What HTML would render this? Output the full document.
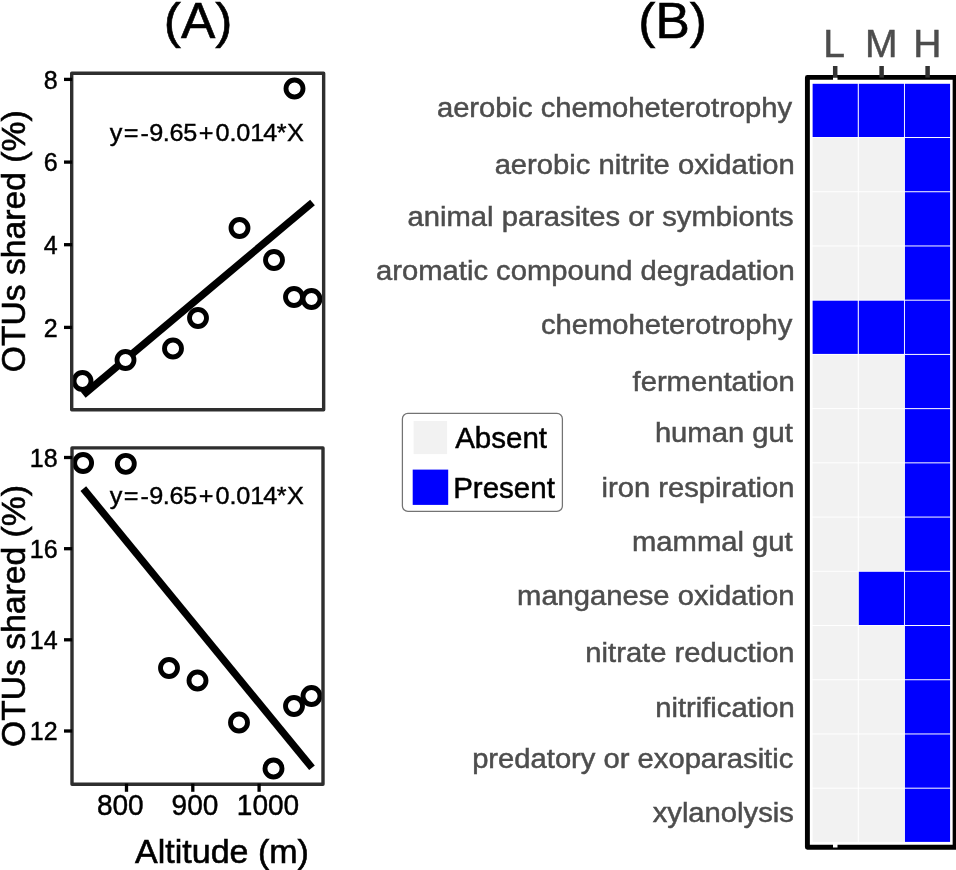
<!DOCTYPE html>
<html><head><meta charset="utf-8"><title>Figure</title>
<style>html,body{margin:0;padding:0;background:#fff;}body{width:956px;height:870px;overflow:hidden;font-family:"Liberation Sans",sans-serif;}svg{display:block;will-change:transform;}text{font-family:"Liberation Sans",sans-serif;}</style></head><body>
<svg width="956" height="870" viewBox="0 0 956 870">
<rect x="0" y="0" width="956" height="870" fill="#ffffff"/>
<text transform="translate(198.1,37.5) scale(1.02,1)" x="0" y="0" font-size="50.5" text-anchor="middle" fill="#000" stroke="#000" stroke-width="0.6">(A)</text>
<text transform="translate(672.6,37.5) scale(1.02,1)" x="0" y="0" font-size="50.5" text-anchor="middle" fill="#000" stroke="#000" stroke-width="0.6">(B)</text>
<g font-size="25" text-anchor="end" fill="#000" stroke="#000" stroke-width="0.45">
<text x="57.6" y="336.5">2</text>
<text x="57.6" y="253.8">4</text>
<text x="57.6" y="171.2">6</text>
<text x="57.6" y="88.5">8</text>
<text x="57.6" y="740.1">12</text>
<text x="57.6" y="648.9">14</text>
<text x="57.6" y="557.8">16</text>
<text x="57.6" y="466.6">18</text>
</g>
<g font-size="30" fill="#000" stroke="#000" stroke-width="0.45" transform="translate(0,814.9) scale(0.935,1)">
<text x="103.64" y="0">800</text>
<text x="183.53" y="0">900</text>
<text x="253.26" y="0">1000</text>
</g>
<text x="222" y="862.6" font-size="34" text-anchor="middle" fill="#000" stroke="#000" stroke-width="0.6">Altitude (m)</text>
<text transform="translate(25.2,241.3) rotate(-90)" font-size="34" text-anchor="middle" fill="#000" stroke="#000" stroke-width="0.6" textLength="262" lengthAdjust="spacingAndGlyphs">OTUs shared (%)</text>
<text transform="translate(25.2,616) rotate(-90)" font-size="34" text-anchor="middle" fill="#000" stroke="#000" stroke-width="0.6" textLength="262" lengthAdjust="spacingAndGlyphs">OTUs shared (%)</text>
<line x1="83.3" y1="394.9" x2="312.5" y2="202.5" stroke="#000" stroke-width="7.3"/>
<line x1="83.3" y1="488.6" x2="312" y2="767.8" stroke="#000" stroke-width="7.3"/>
<g stroke="#000" stroke-width="4.85" fill="#fff">
<circle cx="82.5" cy="381" r="8.5"/>
<circle cx="125.5" cy="360" r="8.5"/>
<circle cx="173" cy="348.5" r="8.5"/>
<circle cx="198" cy="318" r="8.5"/>
<circle cx="239.5" cy="228" r="8.5"/>
<circle cx="274" cy="260" r="8.5"/>
<circle cx="294.5" cy="88.5" r="8.5"/>
<circle cx="294" cy="297" r="8.5"/>
<circle cx="311.5" cy="299" r="8.5"/>
<circle cx="83.1" cy="463" r="8.5"/>
<circle cx="125.8" cy="463.8" r="8.5"/>
<circle cx="169" cy="668" r="8.5"/>
<circle cx="197.5" cy="680.5" r="8.5"/>
<circle cx="239" cy="722.5" r="8.5"/>
<circle cx="273.5" cy="768.5" r="8.5"/>
<circle cx="294" cy="706" r="8.5"/>
<circle cx="311.5" cy="696" r="8.5"/>
</g>
<text transform="translate(0,141.2) scale(1.03,1)" x="106.44 120.13 136.36 144.84 158.00 164.46 178.02 193.00 209.16 222.86 229.45 243.05 255.59 268.72 278.61" y="0" font-size="24.5" fill="#000" stroke="#000" stroke-width="0.4">y=-9.65+0.014*X</text>
<text transform="translate(0,503.8) scale(1.03,1)" x="106.44 120.13 136.36 144.84 158.00 164.46 178.02 193.00 209.16 222.86 229.45 243.05 255.59 268.72 278.61" y="0" font-size="24.5" fill="#000" stroke="#000" stroke-width="0.4">y=-9.65+0.014*X</text>
<rect x="71.7" y="73.3" width="251.95" height="336.45" fill="none" stroke="#2e2e2e" stroke-width="3.4" stroke-linejoin="round"/>
<rect x="72.0" y="447.9" width="251.0" height="336.4" fill="none" stroke="#2e2e2e" stroke-width="3.4" stroke-linejoin="round"/>
<g stroke="#000" stroke-width="3.3" fill="none">
<line x1="64" x2="72.2" y1="327.4" y2="327.4"/>
<line x1="64" x2="72.2" y1="244.7" y2="244.7"/>
<line x1="64" x2="72.2" y1="162.1" y2="162.1"/>
<line x1="64" x2="72.2" y1="79.4" y2="79.4"/>
<line x1="64" x2="72.2" y1="731.0" y2="731.0"/>
<line x1="64" x2="72.2" y1="639.8" y2="639.8"/>
<line x1="64" x2="72.2" y1="548.7" y2="548.7"/>
<line x1="64" x2="72.2" y1="457.5" y2="457.5"/>
<line x1="126.5" x2="126.5" y1="783.6" y2="791.8"/>
<line x1="192.8" x2="192.8" y1="783.6" y2="791.8"/>
<line x1="259.1" x2="259.1" y1="783.6" y2="791.8"/>
</g>
<rect x="808" y="77.5" width="160" height="770" fill="#fff"/>
<rect x="812.62" y="83.80" width="45.15" height="53.22" fill="#0000ff"/>
<rect x="858.82" y="83.80" width="45.15" height="53.22" fill="#0000ff"/>
<rect x="904.92" y="83.80" width="45.15" height="53.22" fill="#0000ff"/>
<rect x="812.62" y="138.02" width="45.15" height="53.22" fill="#f2f2f2"/>
<rect x="858.82" y="138.02" width="45.15" height="53.22" fill="#f2f2f2"/>
<rect x="904.92" y="138.02" width="45.15" height="53.22" fill="#0000ff"/>
<rect x="812.62" y="192.24" width="45.15" height="53.22" fill="#f2f2f2"/>
<rect x="858.82" y="192.24" width="45.15" height="53.22" fill="#f2f2f2"/>
<rect x="904.92" y="192.24" width="45.15" height="53.22" fill="#0000ff"/>
<rect x="812.62" y="246.46" width="45.15" height="53.22" fill="#f2f2f2"/>
<rect x="858.82" y="246.46" width="45.15" height="53.22" fill="#f2f2f2"/>
<rect x="904.92" y="246.46" width="45.15" height="53.22" fill="#0000ff"/>
<rect x="812.62" y="300.69" width="45.15" height="53.22" fill="#0000ff"/>
<rect x="858.82" y="300.69" width="45.15" height="53.22" fill="#0000ff"/>
<rect x="904.92" y="300.69" width="45.15" height="53.22" fill="#0000ff"/>
<rect x="812.62" y="354.91" width="45.15" height="53.22" fill="#f2f2f2"/>
<rect x="858.82" y="354.91" width="45.15" height="53.22" fill="#f2f2f2"/>
<rect x="904.92" y="354.91" width="45.15" height="53.22" fill="#0000ff"/>
<rect x="812.62" y="409.13" width="45.15" height="53.22" fill="#f2f2f2"/>
<rect x="858.82" y="409.13" width="45.15" height="53.22" fill="#f2f2f2"/>
<rect x="904.92" y="409.13" width="45.15" height="53.22" fill="#0000ff"/>
<rect x="812.62" y="463.35" width="45.15" height="53.22" fill="#f2f2f2"/>
<rect x="858.82" y="463.35" width="45.15" height="53.22" fill="#f2f2f2"/>
<rect x="904.92" y="463.35" width="45.15" height="53.22" fill="#0000ff"/>
<rect x="812.62" y="517.57" width="45.15" height="53.22" fill="#f2f2f2"/>
<rect x="858.82" y="517.57" width="45.15" height="53.22" fill="#f2f2f2"/>
<rect x="904.92" y="517.57" width="45.15" height="53.22" fill="#0000ff"/>
<rect x="812.62" y="571.79" width="45.15" height="53.22" fill="#f2f2f2"/>
<rect x="858.82" y="571.79" width="45.15" height="53.22" fill="#0000ff"/>
<rect x="904.92" y="571.79" width="45.15" height="53.22" fill="#0000ff"/>
<rect x="812.62" y="626.01" width="45.15" height="53.22" fill="#f2f2f2"/>
<rect x="858.82" y="626.01" width="45.15" height="53.22" fill="#f2f2f2"/>
<rect x="904.92" y="626.01" width="45.15" height="53.22" fill="#0000ff"/>
<rect x="812.62" y="680.24" width="45.15" height="53.22" fill="#f2f2f2"/>
<rect x="858.82" y="680.24" width="45.15" height="53.22" fill="#f2f2f2"/>
<rect x="904.92" y="680.24" width="45.15" height="53.22" fill="#0000ff"/>
<rect x="812.62" y="734.46" width="45.15" height="53.22" fill="#f2f2f2"/>
<rect x="858.82" y="734.46" width="45.15" height="53.22" fill="#f2f2f2"/>
<rect x="904.92" y="734.46" width="45.15" height="53.22" fill="#0000ff"/>
<rect x="812.62" y="788.68" width="45.15" height="53.22" fill="#f2f2f2"/>
<rect x="858.82" y="788.68" width="45.15" height="53.22" fill="#f2f2f2"/>
<rect x="904.92" y="788.68" width="45.15" height="53.22" fill="#0000ff"/>
<g font-size="28" fill="#4d4d4d" stroke="#4d4d4d" stroke-width="0.5" transform="scale(1.0425,1)">
<text x="419.10" y="117.2">aerobic chemoheterotrophy</text>
<text x="474.48" y="174.5">aerobic nitrite oxidation</text>
<text x="391.00" y="225.7">animal parasites or symbionts</text>
<text x="360.77" y="279.9">aromatic compound degradation</text>
<text x="518.90" y="334.1">chemoheterotrophy</text>
<text x="606.77" y="391.4">fermentation</text>
<text x="628.19" y="442.5">human gut</text>
<text x="577.00" y="496.8">iron respiration</text>
<text x="606.29" y="551.0">mammal gut</text>
<text x="496.00" y="605.2">manganese oxidation</text>
<text x="561.48" y="662.5">nitrate reduction</text>
<text x="628.48" y="716.7">nitrification</text>
<text x="452.90" y="767.9">predatory or exoparasitic</text>
<text x="626.10" y="822.1">xylanolysis</text>
</g>
<rect x="807.4" y="77.4" width="147.7" height="769.9" fill="none" stroke="#000" stroke-width="4.9" stroke-linejoin="round"/>
<g stroke="#333" stroke-width="4.5">
<line x1="835.2" x2="835.2" y1="66" y2="77.6"/>
<line x1="881.6" x2="881.6" y1="66" y2="77.6"/>
<line x1="927.6" x2="927.6" y1="66" y2="77.6"/>
</g>
<rect x="833" y="77.7" width="4.5" height="2.6" fill="#fff"/>
<rect x="833" y="843.9" width="4.5" height="3.6" fill="#fff"/>
<g font-size="39" text-anchor="middle" fill="#4d4d4d" stroke="#4d4d4d" stroke-width="0.5">
<text x="834.2" y="56.9">L</text>
<text x="881.3" y="56.9">M</text>
<text x="927.3" y="56.9">H</text>
</g>
<rect x="402.4" y="413.4" width="160" height="98" rx="5.5" ry="5.5" fill="#fff" stroke="#737373" stroke-width="1.25"/>
<rect x="413.6" y="421" width="33.5" height="33.1" fill="#f2f2f2"/>
<rect x="412.7" y="469.6" width="35.5" height="35.3" fill="#0000ff"/>
<text x="455.2" y="448.1" font-size="29.5" fill="#000" stroke="#000" stroke-width="0.5">Absent</text>
<text x="453.2" y="497.8" font-size="29.5" fill="#000" stroke="#000" stroke-width="0.5">Present</text>
</svg></body></html>
